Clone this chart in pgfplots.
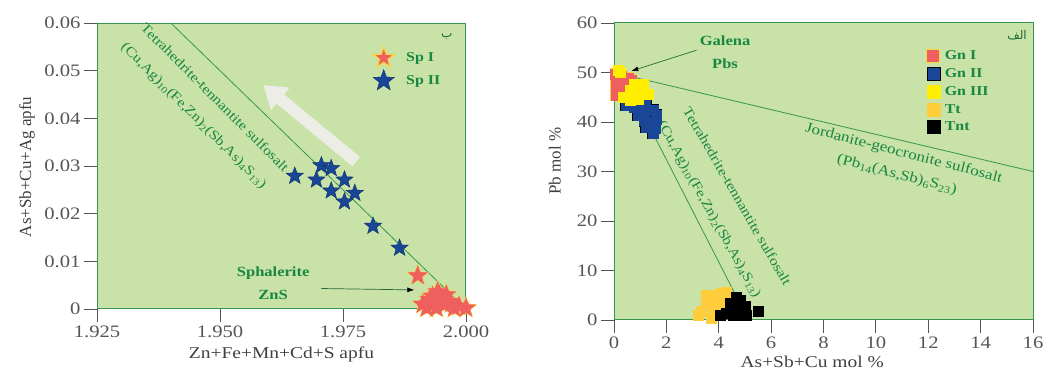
\documentclass[border=0pt]{standalone}
\usepackage{fontspec}
\setmainfont[FakeStretch=1.18]{Liberation Serif}
\newfontfamily\plainserif{Liberation Serif}
\newfontfamily\arabicfont[Script=Arabic]{DejaVu Sans}
\TeXXeTstate=1
\usepackage{pgfplots}
\pgfplotsset{compat=1.18}
\usetikzlibrary{arrows.meta}

\definecolor{bg}{RGB}{200,226,168}
\definecolor{frame}{RGB}{55,150,80}
\definecolor{tgreen}{RGB}{25,135,65}
\definecolor{tickgray}{RGB}{85,85,85}
\definecolor{spred}{RGB}{240,95,95}
\definecolor{spyellow}{RGB}{245,215,70}
\definecolor{spblue}{RGB}{25,70,150}
\definecolor{gnyellow}{RGB}{255,238,0}
\definecolor{ttorange}{RGB}{255,205,60}
\definecolor{arrowwhite}{RGB}{236,238,230}

\pgfdeclareplotmark{fstar}{%
\pgfpathmoveto{\pgfpointpolar{90}{\pgfplotmarksize}}%
\pgfpathlineto{\pgfpointpolar{126}{0.42\pgfplotmarksize}}%
\pgfpathlineto{\pgfpointpolar{162}{\pgfplotmarksize}}%
\pgfpathlineto{\pgfpointpolar{198}{0.42\pgfplotmarksize}}%
\pgfpathlineto{\pgfpointpolar{234}{\pgfplotmarksize}}%
\pgfpathlineto{\pgfpointpolar{270}{0.42\pgfplotmarksize}}%
\pgfpathlineto{\pgfpointpolar{306}{\pgfplotmarksize}}%
\pgfpathlineto{\pgfpointpolar{342}{0.42\pgfplotmarksize}}%
\pgfpathlineto{\pgfpointpolar{18}{\pgfplotmarksize}}%
\pgfpathlineto{\pgfpointpolar{54}{0.42\pgfplotmarksize}}%
\pgfpathclose
\pgfusepathqfillstroke}

\tikzset{
  gtext/.style={text=tgreen, font=\fontsize{13.5}{15}\selectfont},
  gbold/.style={text=tgreen, font=\bfseries\fontsize{14}{16}\selectfont},
}
\pgfplotsset{
  panel/.style={
    scale only axis,
    anchor=south west,
    axis background/.style={fill=bg},
    axis line style={draw=frame, line width=1pt},
    xtick pos=bottom, ytick pos=left,
    tick align=outside,
    major tick length=13pt,
    tick style={draw=tickgray, line width=0.8pt},
    tick label style={text=tickgray, font=\fontsize{17.5}{19}\selectfont},
    scaled ticks=false,
    /pgf/number format/assume math mode=true,
    x label style={text=black!75, font=\fontsize{16.5}{18}\selectfont},
    y label style={text=black!75, font=\plainserif\fontsize{17}{18}\selectfont},
    clip=false,
    legend style={draw=none, fill=none, font=\bfseries\fontsize{13.5}{15}\selectfont,
      text=tgreen, cells={anchor=west}},
  },
}

\begin{document}
\begin{tikzpicture}
\useasboundingbox (0,0) rectangle (1051pt,377pt);

% ---------------- Left panel ----------------
\begin{axis}[panel,
  at={(97pt,68pt)}, width=369pt, height=286pt,
  xmin=1.925, xmax=2.0, ymin=0, ymax=0.06,
  xtick={1.925,1.95,1.975,2.0}, xticklabels={1.925,1.950,1.975,2.000},
  ytick={0,0.01,0.02,0.03,0.04,0.05,0.06},
  yticklabels={0,0.01,0.02,0.03,0.04,0.05,0.06},
  xlabel={Zn+Fe+Mn+Cd+S apfu},
  ylabel={As+Sb+Cu+Ag apfu},
  x label style={at={(axis description cs:0.5,-0.16)}, anchor=center},
  y label style={at={(axis description cs:-0.19,0.497)}, anchor=center, rotate=0},
  legend style={at={(rel axis cs:0.74,0.924)}, anchor=north west, row sep=3pt, column sep=10pt},
]
\addplot[draw=frame, line width=0.8pt, forget plot] coordinates {(1.9400,0.06) (2.0,0)};
\draw[arrowwhite, line width=12pt, -{Triangle[width=28pt,length=22pt]}]
  (axis cs:1.9777,0.0309) -- (axis cs:1.9588,0.0470);
\node[gtext, rotate=-45] at (axis cs:1.9490,0.0444) {Tetrahedrite-tennantite sulfosalt};
\node[gtext, rotate=-45] at (axis cs:1.9446,0.0405)
  {(Cu,Ag)\textsubscript{10}(Fe,Zn)\textsubscript{2}(Sb,As)\textsubscript{4}S\textsubscript{13})};
\node[gbold] at (axis cs:1.9608,0.00754) {Sphalerite};
\node[gbold] at (axis cs:1.9608,0.00294) {ZnS};
\draw[frame!70!black, line width=0.7pt, -{Latex[length=7pt,width=5pt,black]}]
  (axis cs:1.9706,0.0043) -- (axis cs:1.9895,0.0040);
\node[text=tgreen!80!black] at (rel axis cs:0.948,0.951) {\arabicfont\fontsize{12}{12}\selectfont\beginR ب\endR};

% Sp I (red stars) - outline layer, then fill layer
\addplot[only marks, mark=fstar, mark size=10pt, mark options={fill=spyellow, draw=spyellow, line width=1.4pt}, forget plot]
 coordinates {(1.9902,0.0070) (1.9946,0.0030) (1.9926,0.0020) (1.9966,0.0016) (1.9912,0.0010)
 (1.9940,0.0002) (1.9986,0.0006) (2.0000,0.0002) (1.9932,0.0027) (1.9956,0.0009) (1.9976,0.0002)
 (1.9950,0.0024) (1.9920,0.0002) (1.9960,0.0030) (1.9970,0.0012) (1.9930,0.0008) (1.9942,0.0036)};
\addplot[only marks, mark=fstar, mark size=10pt, mark options={fill=spred, draw=spred, line width=0.3pt}, forget plot]
 coordinates {(1.9902,0.0070) (1.9946,0.0030) (1.9926,0.0020) (1.9966,0.0016) (1.9912,0.0010)
 (1.9940,0.0002) (1.9986,0.0006) (2.0000,0.0002) (1.9932,0.0027) (1.9956,0.0009) (1.9976,0.0002)
 (1.9950,0.0024) (1.9920,0.0002) (1.9960,0.0030) (1.9970,0.0012) (1.9930,0.0008) (1.9942,0.0036)};
% Sp II (blue stars)
\addplot[only marks, mark=fstar, mark size=9pt, mark options={fill=spblue, draw=spblue!70!black, line width=0.5pt}, forget plot]
 coordinates {(1.9652,0.0279) (1.9706,0.0301) (1.9726,0.0295) (1.9696,0.0271) (1.9753,0.0271)
 (1.9726,0.0248) (1.9774,0.0243) (1.9753,0.0225) (1.9811,0.0174) (1.9865,0.0128)};

\addlegendimage{only marks, mark=fstar, mark size=11pt, mark options={fill=spred, draw=spyellow, line width=1.4pt}}
\addlegendentry{Sp I}
\addlegendimage{only marks, mark=fstar, mark size=11pt, mark options={fill=spblue, draw=spblue!70!black, line width=0.5pt}}
\addlegendentry{Sp II}
\end{axis}

% ---------------- Right panel ----------------
\begin{axis}[panel,
  at={(614pt,57pt)}, width=419pt, height=297pt,
  xmin=0, xmax=16, ymin=0, ymax=60,
  xtick={0,2,...,16}, ytick={0,10,...,60},
  xlabel={As+Sb+Cu mol \%},
  ylabel={Pb mol \%},
  x label style={at={(axis description cs:0.473,-0.141)}, anchor=center},
  y label style={at={(axis description cs:-0.141,0.535)}, anchor=center, rotate=0},
  legend style={at={(rel axis cs:0.739,0.922)}, anchor=north west, row sep=3.5pt, column sep=3pt},
]
\addplot[draw=frame, line width=0.8pt, forget plot] coordinates {(0,50) (16,30)};
\addplot[draw=frame, line width=0.8pt, forget plot] coordinates {(0.30,50) (4.6,5.5)};
\node[gtext, font=\fontsize{14.5}{16}\selectfont, rotate=-14.5] at (axis cs:11.06,33.6) {Jordanite-geocronite sulfosalt};
\node[gtext, font=\fontsize{14.5}{16}\selectfont, rotate=-14.5] at (axis cs:10.8,29.3)
  {(Pb\textsubscript{14}(As,Sb)\textsubscript{6}S\textsubscript{23})};
\node[gtext, rotate=-60] at (axis cs:4.71,25.0) {Tetrahedrite-tennantite sulfosalt};
\node[gtext, rotate=-61] at (axis cs:3.62,22.3)
  {(Cu,Ag)\textsubscript{10}(Fe,Zn)\textsubscript{2}(Sb,As)\textsubscript{4}S\textsubscript{13})};
\node[gbold] at (axis cs:4.24,56.5) {Galena};
\node[gbold] at (axis cs:4.24,51.8) {Pbs};
\draw[frame!70!black, line width=0.7pt, -{Latex[length=7pt,width=5pt,black]}]
  (axis cs:3.15,54.5) -- (axis cs:0.66,50.3);
\node[text=tgreen!80!black] at (rel axis cs:0.962,0.96) {\arabicfont\fontsize{12}{12}\selectfont\beginR الف\endR};

% Gn I (red squares)
\addplot[only marks, mark=square*, mark size=5pt, mark options={fill=spyellow, draw=spyellow, line width=2pt}, forget plot]
 coordinates {(0.06,49.6) (0.28,49.2) (0.54,48.8) (0.09,48.1) (0.34,47.7) (0.09,46.7) (0.28,46.1) (0.09,45.4) (0.66,48.4)};
\addplot[only marks, mark=square*, mark size=5pt, mark options={fill=spred, draw=spred}, forget plot]
 coordinates {(0.06,49.6) (0.28,49.2) (0.54,48.8) (0.09,48.1) (0.34,47.7) (0.09,46.7) (0.28,46.1) (0.09,45.4) (0.66,48.4)};
% Gn II (blue squares)
\addplot[only marks, mark=square*, mark size=5pt, mark options={fill=black, draw=black, line width=2pt}, forget plot]
 coordinates {(0.47,43.4) (0.79,43.0) (1.21,44.0) (0.92,41.4) (1.11,42.4) (1.49,42.4) (1.62,41.4)
 (1.17,40.3) (1.43,40.0) (1.24,39.0) (1.56,38.7) (1.49,37.7) (1.62,40.6)};
\addplot[only marks, mark=square*, mark size=5pt, mark options={fill=spblue, draw=spblue}, forget plot]
 coordinates {(0.47,43.4) (0.79,43.0) (1.21,44.0) (0.92,41.4) (1.11,42.4) (1.49,42.4) (1.62,41.4)
 (1.17,40.3) (1.43,40.0) (1.24,39.0) (1.56,38.7) (1.49,37.7) (1.62,40.6)};
% Gn III (yellow squares)
\addplot[only marks, mark=square*, mark size=5pt, mark options={fill=gnyellow, draw=gnyellow}, forget plot]
 coordinates {(0.15,50.4) (0.22,50.1) (0.79,47.7) (0.98,47.1) (0.60,46.4) (1.11,46.1) (1.30,45.7)
 (0.79,45.4) (0.34,45.1) (0.92,44.7) (0.60,44.4) (1.11,47.7)};
% Tt (orange-yellow squares)
\addplot[only marks, mark=square*, mark size=5pt, mark options={fill=ttorange, draw=ttorange}, forget plot]
 coordinates {(3.34,1.7) (3.53,3.4) (3.66,5.0) (3.79,1.3) (3.92,3.4) (4.11,5.4) (4.30,5.7)
 (3.72,0.3) (4.04,2.4) (4.23,4.0) (3.53,5.0) (3.21,1.0)};
% Tnt (black squares)
\addplot[only marks, mark=square*, mark size=5pt, mark options={fill=black, draw=black}, forget plot]
 coordinates {(4.04,1.0) (4.30,1.3) (4.55,2.0) (4.74,3.0) (4.68,4.7) (4.81,4.0) (5.00,2.7)
 (5.06,1.0) (4.55,1.0) (4.43,3.4) (5.51,1.7) (4.87,1.0)};

\addlegendimage{only marks, mark=square*, mark size=6.5pt, mark options={fill=spred, draw=spyellow, line width=1pt}}
\addlegendentry{Gn I}
\addlegendimage{only marks, mark=square*, mark size=6.5pt, mark options={fill=spblue, draw=black, line width=0.6pt}}
\addlegendentry{Gn II}
\addlegendimage{only marks, mark=square*, mark size=6.5pt, mark options={fill=gnyellow, draw=gnyellow}}
\addlegendentry{Gn III}
\addlegendimage{only marks, mark=square*, mark size=6.5pt, mark options={fill=ttorange, draw=ttorange}}
\addlegendentry{Tt}
\addlegendimage{only marks, mark=square*, mark size=6.5pt, mark options={fill=black, draw=black}}
\addlegendentry{Tnt}
\end{axis}
\end{tikzpicture}
\end{document}
